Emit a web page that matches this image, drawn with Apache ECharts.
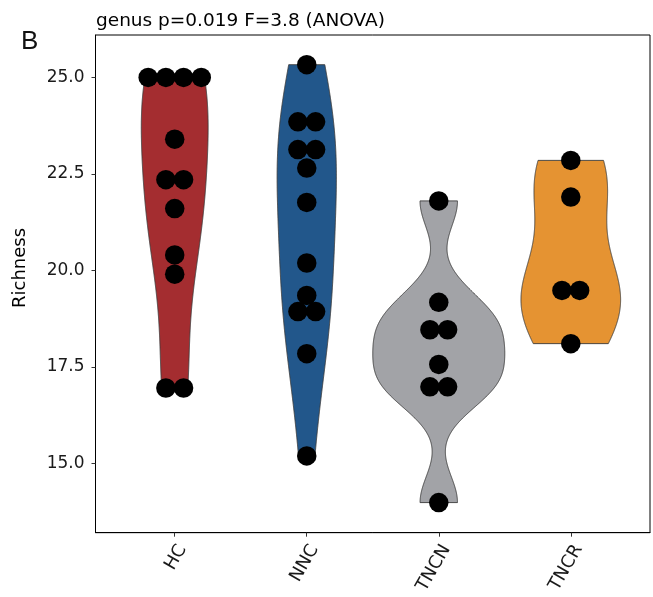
<!DOCTYPE html>
<html><head><meta charset="utf-8">
<script src="https://cdn.jsdelivr.net/npm/echarts@6/dist/echarts.min.js"></script>
<style>html,body{margin:0;padding:0;background:#fff}#c{width:653px;height:597px}</style>
</head><body><div id="c"></div>
<script>
const categories = ['HC', 'NNC', 'TNCN', 'TNCR'];
const hcValues = [25.0, 25.0, 25.0, 25.0, 23.4, 22.35, 22.35, 21.6, 20.4, 19.9, 16.95, 16.95];
const nncValues = [25.33, 23.85, 23.85, 23.13, 23.13, 22.65, 21.76, 20.19, 19.35, 18.93, 18.93, 17.84, 15.19];
const tncnValues = [21.8, 19.17, 18.46, 18.46, 17.56, 16.98, 16.98, 13.98];
const tncrValues = [22.85, 21.9, 19.48, 19.48, 18.1];
const yTicks = [15.0, 17.5, 20.0, 22.5, 25.0];
const colors = ['#A42D30', '#22578B', '#A2A3A7', '#E59332'];
const titleText = 'genus p=0.019 F=3.8 (ANOVA)';
const panelLabel = 'B';
const yName = 'Richness';

const groups = [hcValues, nncValues, tncnValues, tncrValues];
const bwAdjust = [1, 1.3, 1, 1];

function quantile(s, p) {
  const h = (s.length - 1) * p, lo = Math.floor(h);
  const hi = Math.min(lo + 1, s.length - 1);
  return s[lo] + (h - lo) * (s[hi] - s[lo]);
}
function bwNrd0(x) {
  const n = x.length;
  const m = x.reduce((a, b) => a + b, 0) / n;
  const sd = Math.sqrt(x.reduce((a, b) => a + (b - m) * (b - m), 0) / (n - 1));
  const s = x.slice().sort((a, b) => a - b);
  const iqr = quantile(s, 0.75) - quantile(s, 0.25);
  const lo = Math.min(sd, iqr / 1.34) || sd || 1;
  return 0.9 * lo * Math.pow(n, -0.2);
}
function kde(x, adj) {
  const n = x.length, bw = bwNrd0(x) * adj;
  const mn = Math.min(...x), mx = Math.max(...x);
  const pts = [];
  for (let i = 0; i < 512; i++) {
    const y = mn + (mx - mn) * i / 511;
    let s = 0;
    for (const v of x) { const u = (y - v) / bw; s += Math.exp(-0.5 * u * u); }
    pts.push([y, s / (n * bw * Math.sqrt(2 * Math.PI))]);
  }
  return pts;
}
const dens = groups.map((g, i) => kde(g, bwAdjust[i]));
const maxD = Math.max(...dens.map(d => Math.max(...d.map(p => p[1]))));
const violinWidth = 1.0;
const dotSpacing = 17.7;

const violinData = groups.map((g, i) => [i, g[0]]);
const dotData = [];
groups.forEach((g, i) => {
  const counts = {}, seen = {};
  g.forEach(v => { counts[v] = (counts[v] || 0) + 1; });
  g.forEach(v => {
    const k = seen[v] || 0; seen[v] = k + 1;
    const off = (k - (counts[v] - 1) / 2) * dotSpacing;
    dotData.push({ value: [i, v], symbolOffset: [off, 0] });
  });
});

const FONT = 'DejaVu Sans';
const chart = echarts.init(document.getElementById('c'), null, { renderer: 'canvas' });
const txt = '#1a1a1a';
chart.setOption({
  animation: false,
  backgroundColor: '#fff',
  title: {
    text: titleText, left: 96, top: 12, padding: 0,
    textStyle: { fontFamily: FONT, fontSize: 18.5, fontWeight: 'normal', color: '#000' }
  },
  graphic: [
    {
      type: 'text', left: 21, top: 29,
      style: { text: panelLabel, fontFamily: 'Liberation Sans', fontSize: 26, fill: '#111' }
    },
    {
      type: 'text', x: 20, y: 268, rotation: Math.PI / 2,
      style: { text: yName, fontFamily: FONT, fontSize: 18, fill: '#000', align: 'center', verticalAlign: 'middle' }
    }
  ],
  grid: { left: 95.5, right: 3, top: 35, bottom: 63, show: true, borderColor: '#000', borderWidth: 1, backgroundColor: 'transparent' },
  xAxis: {
    type: 'value', min: -0.6, max: 3.6,
    axisLine: { show: true, onZero: false, lineStyle: { color: '#000', width: 1 } },
    axisTick: { show: true, customValues: [0, 1, 2, 3], length: 4, lineStyle: { color: '#333' } },
    axisLabel: {
      customValues: [0, 1, 2, 3], formatter: v => categories[Math.round(v)],
      rotate: 60, align: 'right', verticalAlign: 'top',
      fontSize: 18, fontFamily: FONT, color: txt, margin: 9
    },
    splitLine: { show: false }
  },
  yAxis: {
    type: 'value', min: 13.2, max: 26.1,
    axisLine: { show: true, onZero: false, lineStyle: { color: '#000', width: 1 } },
    axisTick: { show: true, customValues: yTicks, length: 4, lineStyle: { color: '#333' } },
    axisLabel: {
      customValues: yTicks, formatter: v => v.toFixed(1),
      fontSize: 17, fontFamily: FONT, color: txt, margin: 11
    },
    splitLine: { show: false }
  },
  series: [
    {
      type: 'custom', data: violinData, encode: { x: 0, y: 1 }, z: 2,
      renderItem: (params, api) => {
        const ci = api.value(0);
        const d = dens[ci];
        const c0 = api.coord([0, 20]), c1 = api.coord([1, 20]);
        const half = (c1[0] - c0[0]) * violinWidth / 2;
        const left = [], right = [];
        for (const [y, v] of d) {
          const c = api.coord([ci, y]);
          const w = v / maxD * half;
          left.push([c[0] - w, c[1]]);
          right.push([c[0] + w, c[1]]);
        }
        return {
          type: 'polygon', shape: { points: left.concat(right.reverse()) },
          style: { fill: colors[ci], stroke: '#3a3a3a', lineWidth: 0.9 }
        };
      }
    },
    {
      type: 'scatter', data: dotData, symbol: 'circle', symbolSize: 19.5, z: 5,
      itemStyle: { color: '#000', opacity: 1 }
    }
  ]
});
</script>
</body></html>
